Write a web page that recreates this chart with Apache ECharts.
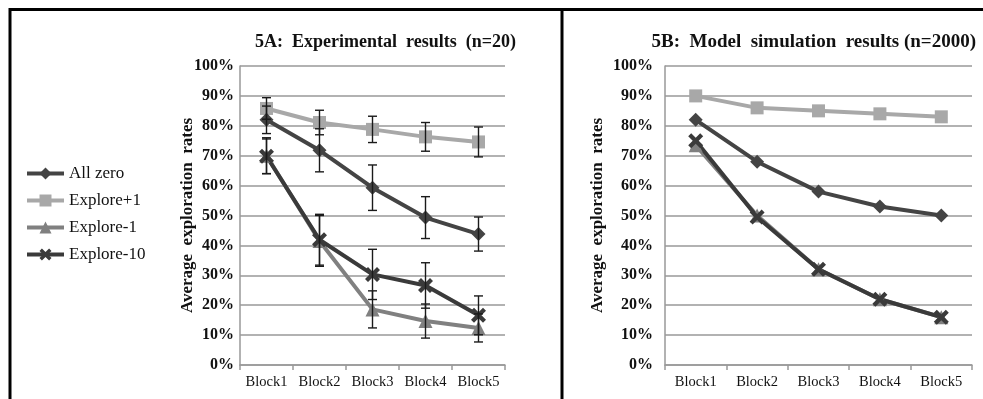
<!DOCTYPE html>
<html>
<head>
<meta charset="utf-8">
<script src="https://cdn.jsdelivr.net/npm/echarts@6/dist/echarts.min.js"></script>
<style>
  html, body { margin: 0; padding: 0; background: #fff; }
  #main { width: 983px; height: 399px; }
</style>
</head>
<body>
<div id="main"></div>
<script>
// categories and tick labels
const blocks = ['Block1', 'Block2', 'Block3', 'Block4', 'Block5'];
const seriesNames = ['All zero', 'Explore+1', 'Explore-1', 'Explore-10'];

// 5A experimental means (%)
const expAllZero   = [82, 71.8, 59.3, 49.3, 43.8];
const expPlus1     = [85.8, 81.1, 78.8, 76.3, 74.6];
const expMinus1    = [70, 41.5, 18.6, 14.7, 12.4];
const expMinus10   = [69.8, 41.9, 30.3, 26.6, 16.6];

// 5A error bar half widths (%)
const errAllZero   = [4.6, 7.2, 7.6, 7, 5.7];
const errPlus1     = [3.6, 4.1, 4.4, 4.8, 5];
const errMinus1    = [6, 8.5, 6.2, 5.7, 4.7];
const errMinus10   = [5.8, 8.5, 8.4, 7.6, 6.5];

// 5B model simulation means (%)
const simAllZero   = [82, 68, 58, 53, 50];
const simPlus1     = [90, 86, 85, 84, 83];
const simMinus1    = [73.5, 50, 32, 22, 16];
const simMinus10   = [75, 49.5, 32, 22, 16];

const colors = {
  'All zero': '#444444',
  'Explore+1': '#a8a8a8',
  'Explore-1': '#808080',
  'Explore-10': '#3a3a3a'
};
const symbols = {
  'All zero': 'diamond',
  'Explore+1': 'rect',
  'Explore-1': 'triangle',
  'Explore-10': 'path://M2,0 L5,3 L8,0 L10,2 L7,5 L10,8 L8,10 L5,7 L2,10 L0,8 L3,5 L0,2 Z'
};
const symbolSizes = {
  'All zero': 14,
  'Explore+1': 13,
  'Explore-1': 14,
  'Explore-10': 15
};

const serif = '"Liberation Serif", "Times New Roman", serif';

function lineSeries(name, data, idx) {
  return {
    name: name,
    type: 'line',
    xAxisIndex: idx,
    yAxisIndex: idx,
    data: data,
    symbol: symbols[name],
    symbolSize: symbolSizes[name],
    lineStyle: { color: colors[name], width: 4 },
    itemStyle: { color: colors[name] },
    z: 3
  };
}

function errorSeries(means, errs) {
  const d = means.map((m, i) => [i, m - errs[i], m + errs[i]]);
  return {
    type: 'custom',
    xAxisIndex: 0,
    yAxisIndex: 0,
    data: d,
    z: 4,
    silent: true,
    renderItem: function (params, api) {
      const lo = api.coord([api.value(0), api.value(1)]);
      const hi = api.coord([api.value(0), api.value(2)]);
      const w = 4.5;
      const style = { stroke: '#1a1a1a', lineWidth: 1.4 };
      return {
        type: 'group',
        children: [
          { type: 'line', shape: { x1: lo[0], y1: lo[1], x2: hi[0], y2: hi[1] }, style: style },
          { type: 'line', shape: { x1: lo[0] - w, y1: lo[1], x2: lo[0] + w, y2: lo[1] }, style: style },
          { type: 'line', shape: { x1: hi[0] - w, y1: hi[1], x2: hi[0] + w, y2: hi[1] }, style: style }
        ]
      };
    }
  };
}

function xAxis(idx) {
  return {
    type: 'category',
    gridIndex: idx,
    data: blocks,
    boundaryGap: true,
    axisLine: { lineStyle: { color: '#999', width: 1.5 } },
    axisTick: { show: true, length: 5, lineStyle: { color: '#999', width: 1.5 } },
    axisLabel: { color: '#111', fontFamily: serif, fontSize: 14.5, margin: 10, interval: 0, hideOverlap: false }
  };
}

function yAxis(idx, gap, labelMargin) {
  return {
    type: 'value',
    gridIndex: idx,
    min: 0,
    max: 100,
    interval: 10,
    name: 'Average  exploration  rates',
    nameLocation: 'middle',
    nameGap: gap,
    nameMoveOverlap: false,
    nameTextStyle: { color: '#111', fontFamily: serif, fontSize: 17, fontWeight: 'bold' },
    axisLine: { show: true, lineStyle: { color: '#999', width: 1.5 } },
    axisTick: { show: false },
    splitLine: { lineStyle: { color: '#999', width: 1.5 } },
    axisLabel: { color: '#111', fontFamily: serif, fontSize: 16, fontWeight: 'bold', formatter: '{value}%', margin: labelMargin }
  };
}

const chart = echarts.init(document.getElementById('main'));
const option = {
  backgroundColor: '#fff',
  animation: false,
  title: [
    {
      text: '5A:  Experimental  results  (n=20)',
      left: 250, top: 28,
      textStyle: { fontFamily: serif, fontSize: 18, fontWeight: 'bold', color: '#111' }
    },
    {
      text: '5B:  Model  simulation  results (n=2000)',
      right: 2, top: 28,
      textStyle: { fontFamily: serif, fontSize: 19, fontWeight: 'bold', color: '#111' }
    }
  ],
  legend: {
    data: seriesNames,
    orient: 'vertical',
    left: 20,
    top: 160,
    itemWidth: 37,
    itemHeight: 15,
    itemGap: 10,
    lineStyle: { width: 4 },
    textStyle: { fontFamily: serif, fontSize: 17, color: '#111' }
  },
  grid: [
    { left: 240, right: 478, top: 66, bottom: 34 },
    { left: 665, right: 11, top: 66, bottom: 34 }
  ],
  xAxis: [xAxis(0), xAxis(1)],
  yAxis: [yAxis(0, 44, 6), yAxis(1, 59, 12)],
  graphic: [
    { type: 'rect', shape: { x: 10, y: 9.5, width: 1000, height: 420 }, style: { fill: 'none', stroke: '#000', lineWidth: 3 }, z: 10 },
    { type: 'line', shape: { x1: 562, y1: 9, x2: 562, y2: 399 }, style: { stroke: '#000', lineWidth: 3 }, z: 10 }
  ],
  series: [
    lineSeries('Explore+1', expPlus1, 0),
    lineSeries('All zero', expAllZero, 0),
    lineSeries('Explore-1', expMinus1, 0),
    lineSeries('Explore-10', expMinus10, 0),
    errorSeries(expPlus1, errPlus1),
    errorSeries(expAllZero, errAllZero),
    errorSeries(expMinus1, errMinus1),
    errorSeries(expMinus10, errMinus10),
    lineSeries('Explore+1', simPlus1, 1),
    lineSeries('All zero', simAllZero, 1),
    lineSeries('Explore-1', simMinus1, 1),
    lineSeries('Explore-10', simMinus10, 1)
  ]
};
chart.setOption(option);
</script>
</body>
</html>
